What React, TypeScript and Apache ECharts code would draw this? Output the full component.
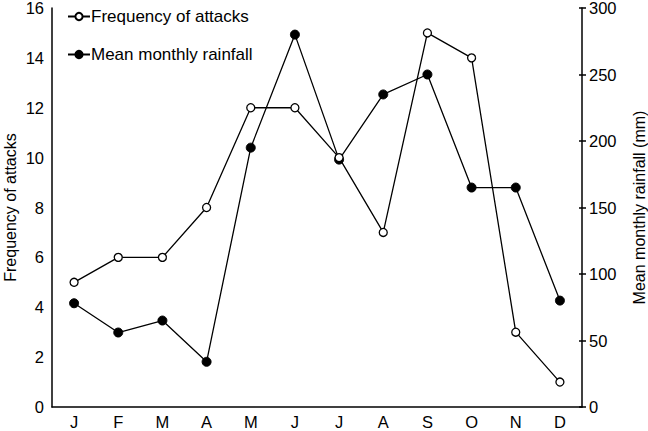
import React, { useEffect, useRef } from "react";
import * as echarts from "echarts";

const months = ["J", "F", "M", "A", "M", "J", "J", "A", "S", "O", "N", "D"];
const attacks = [5, 6, 6, 8, 12, 12, 10, 7, 15, 14, 3, 1];
const rainfall = [78, 56, 65, 34, 195, 280, 186, 235, 250, 165, 165, 80];

const FONT = "'Liberation Sans', Arial, sans-serif";

export default function App() {
  const ref = useRef<HTMLDivElement>(null);
  useEffect(() => {
    if (!ref.current) return;
    const chart = echarts.init(ref.current, undefined, { renderer: "svg" });
    const axisLine = { show: true, lineStyle: { color: "#000", width: 1.5 } };
    chart.setOption({
      animation: false,
      textStyle: { fontFamily: FONT, color: "#000" },
      grid: { left: 52, right: 66, top: 8, bottom: 24, containLabel: false, outerBoundsMode: "none" },
      legend: {
        orient: "vertical",
        left: 62,
        top: 3,
        itemGap: 21,
        itemWidth: 22,
        itemHeight: 9,
        textStyle: { fontSize: 17, color: "#000", fontFamily: FONT, padding: [0, 0, 0, -4] },
        data: ["Frequency of attacks", "Mean monthly rainfall"],
      },
      xAxis: {
        type: "category",
        data: months,
        boundaryGap: true,
        axisLine,
        axisTick: { show: false },
        axisLabel: { fontSize: 16.5, color: "#000", margin: 6, fontFamily: FONT },
      },
      yAxis: [
        {
          type: "value",
          min: 0,
          max: 16,
          interval: 2,
          position: "left",
          name: "Frequency of attacks",
          nameLocation: "middle",
          nameGap: 34,
          nameMoveOverlap: false,
          nameTextStyle: { fontSize: 16, color: "#000", fontFamily: FONT },
          axisLine,
          axisTick: { show: false },
          splitLine: { show: false },
          axisLabel: { fontSize: 16.5, color: "#000", margin: 8, fontFamily: FONT },
        },
        {
          type: "value",
          min: 0,
          max: 300,
          interval: 50,
          position: "right",
          name: "Mean monthly rainfall (mm)",
          nameLocation: "middle",
          nameGap: 49,
          nameRotate: 90,
          nameTextStyle: { fontSize: 16, color: "#000", fontFamily: FONT },
          axisLine,
          axisTick: { show: true, length: 4, lineStyle: { color: "#000", width: 1.5 } },
          splitLine: { show: false },
          axisLabel: { fontSize: 16.5, color: "#000", margin: 7, fontFamily: FONT },
        },
        {
          type: "value",
          min: 0,
          max: 300,
          interval: 50,
          position: "right",
          offset: 0,
          axisLine: { show: false },
          axisTick: { show: true, inside: true, length: 3, lineStyle: { color: "#000", width: 1.5 } },
          splitLine: { show: false },
          axisLabel: { show: false },
        },
      ],
      series: [
        {
          name: "Frequency of attacks",
          type: "line",
          yAxisIndex: 0,
          data: attacks,
          symbol: "circle",
          symbolSize: 8,
          lineStyle: { color: "#000", width: 1.3 },
          itemStyle: { color: "#fff", borderColor: "#000", borderWidth: 1.3 },
          z: 3,
        },
        {
          name: "Mean monthly rainfall",
          type: "line",
          yAxisIndex: 1,
          data: rainfall,
          symbol: "circle",
          symbolSize: 9,
          lineStyle: { color: "#000", width: 1.3 },
          itemStyle: { color: "#000", borderColor: "#000", borderWidth: 1 },
          z: 2,
        },
      ],
    });
    return () => chart.dispose();
  }, []);
  return <div ref={ref} style={{ width: 648, height: 431, position: "absolute", left: 0, top: 0 }} />;
}
